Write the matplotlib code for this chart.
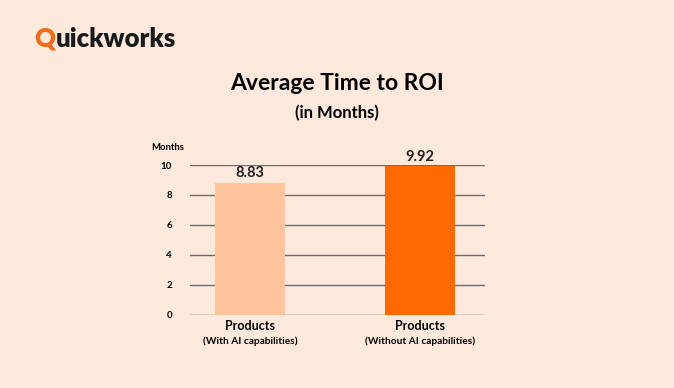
import matplotlib.pyplot as plt

categories = ["Products", "Products"]
sublabels = ["(With AI capabilities)", "(Without AI capabilities)"]
values = [8.83, 9.92]
value_labels = ["8.83", "9.92"]
yticks = [0, 2, 4, 6, 8, 10]

bg = "#FFE9DD"
colors = ["#FFC49C", "#FF6A00"]
plt.rcParams["font.family"] = ["Lato", "DejaVu Sans"]

fig = plt.figure(figsize=(6.74, 3.88), dpi=100, facecolor=bg)
ax = fig.add_axes([190 / 674, 1 - 315 / 388, 295 / 674, 150 / 388])
ax.set_facecolor(bg)

x = list(range(len(values)))
ax.bar(x, values, width=0.412, color=colors, zorder=2)
for xi, v, lab in zip(x, values, value_labels):
    ax.text(xi, v + 0.15, lab, ha="center", va="bottom", fontsize=10.5,
            fontweight="bold", color="#222222")

ax.set_ylim(0, 10)
ax.set_xlim(-0.353, 1.382)
ax.set_yticks(yticks)
ax.set_yticklabels([str(t) for t in yticks], fontsize=7, fontweight="bold")
ax.yaxis.grid(True, color="#6b6b6b", linewidth=1, zorder=1)
ax.tick_params(axis="y", length=0, pad=13)
ax.set_xticks(x)
ax.set_xticklabels([])
ax.tick_params(axis="x", length=0)
for s in ax.spines.values():
    s.set_visible(False)

for xi, c, sub in zip(x, categories, sublabels):
    ax.annotate(c, xy=(xi, 0), xycoords=("data", "axes fraction"),
                xytext=(0, -5), textcoords="offset pixels",
                ha="center", va="top", fontsize=9, fontweight="bold")
    ax.annotate(sub, xy=(xi, 0), xycoords=("data", "axes fraction"),
                xytext=(0, -21), textcoords="offset pixels",
                ha="center", va="top", fontsize=7.3, fontweight="bold")

fig.text(151 / 674, 1 - 147 / 388, "Months", fontsize=6.8, fontweight="bold",
         ha="left", va="center")

fig.text(337 / 674, 1 - 84 / 388, "Average Time to ROI", fontsize=16.5,
         fontweight="bold", ha="center", va="center")
fig.text(337 / 674, 1 - 113 / 388, "(in Months)", fontsize=12,
         fontweight="bold", ha="center", va="center")

# logo: orange Q followed by the rest of the word
q = fig.text(34 / 674, 1 - 39 / 388, "Q", fontsize=18.5, fontweight="heavy",
             color="#F26B1D", ha="left", va="center")
fig.canvas.draw()
bb = q.get_window_extent()
fig.text((bb.x1 + 1) / 674, 1 - 39 / 388, "uickworks", fontsize=18.5,
         fontweight="heavy", color="#1A1A1A", ha="left", va="center")

fig.savefig("out.png", dpi=100, facecolor=bg)
